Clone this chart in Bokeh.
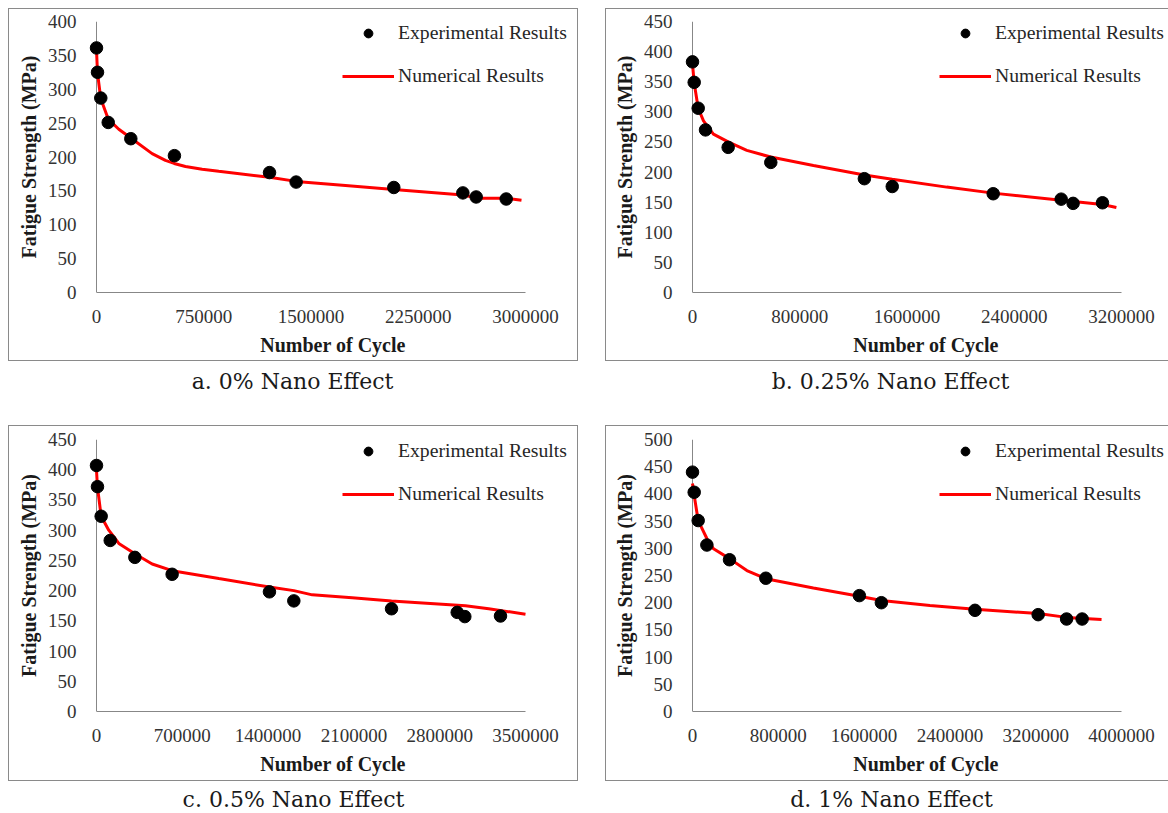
from bokeh.plotting import figure
from bokeh.models import (Range1d, FixedTicker, Legend, LegendItem, Label,
                          Spacer, BasicTickFormatter, Span)
from bokeh.layouts import row, column
from bokeh.embed import file_html
from bokeh.resources import INLINE

# ---------------- data ----------------
# a. 0% nano
exp_x_a = [0, 7000, 30000, 82000, 240000, 545000, 1210000, 1396000, 2079000, 2562000, 2655000, 2865000]
exp_y_a = [361, 325, 287, 251, 227, 202, 177, 163, 155, 147, 141, 138]
num_x_a = [0, 7000, 30000, 82000, 156000, 240000, 389000, 482000, 543000, 622000, 739000, 855000,
           1210000, 1396000, 1741000, 2079000, 2562000, 2674000, 2865000, 2972000]
num_y_a = [358, 324, 286, 256, 241, 228, 205, 195, 190.5, 186, 182, 179,
           170, 164, 158, 152, 144, 139, 139, 136]

# b. 0.25% nano
exp_x_b = [0, 12700, 42500, 97000, 266000, 584000, 1282000, 1490000, 2243000, 2750000, 2839000, 3058000]
exp_y_b = [383, 349, 306, 270, 241, 216, 189, 176, 164, 155, 148, 149]
num_x_b = [0, 12700, 42500, 82000, 156000, 266000, 405000, 584000, 902000, 1282000, 1490000,
           1896000, 2243000, 2750000, 3058000, 3162000]
num_y_b = [379, 348, 306, 285, 263, 250, 236, 225, 211, 195, 188, 175, 165, 153, 146, 141]

# c. 0.5% nano
exp_x_c = [0, 8000, 38000, 112000, 313000, 617000, 1411000, 1610000, 2407000, 2943000, 3005000, 3296000]
exp_y_c = [407, 372, 323, 283, 255, 227, 198, 183, 170, 164, 157, 158]
num_x_c = [0, 8000, 38000, 100000, 182000, 313000, 454000, 617000, 998000, 1411000, 1610000,
           1760000, 2086000, 2407000, 3010000, 3200000, 3500000]
num_y_c = [399, 371, 323, 300, 278, 261, 244, 233, 220, 206, 200, 193, 188, 183, 175, 170, 161]

# d. 1% nano
exp_x_d = [0, 15800, 53000, 134000, 345000, 684000, 1556000, 1761000, 2634000, 3223000, 3488000, 3633000]
exp_y_d = [440, 403, 351, 306, 279, 245, 213, 200, 186, 178, 170, 170]
num_x_d = [0, 15800, 53000, 134000, 196000, 345000, 507000, 684000, 1127000, 1556000, 1761000,
           2214000, 2634000, 3223000, 3488000, 3814000]
num_y_d = [419, 397, 351, 318, 299, 281, 259, 244, 227, 212, 204, 195, 188, 180, 173, 169]

x_ticks_a = [0, 750000, 1500000, 2250000, 3000000]
x_ticks_b = [0, 800000, 1600000, 2400000, 3200000]
x_ticks_c = [0, 700000, 1400000, 2100000, 2800000, 3500000]
x_ticks_d = [0, 800000, 1600000, 2400000, 3200000, 4000000]
y_max_a, y_max_b, y_max_c, y_max_d = 400, 450, 450, 500

x_label = "Number of Cycle"
y_label = "Fatigue Strength (MPa)"
legend_labels = ["Experimental Results", "Numerical Results"]
captions = ["a. 0% Nano Effect", "b. 0.25% Nano Effect", "c. 0.5% Nano Effect", "d. 1% Nano Effect"]

SERIF = "'Liberation Serif', 'Times New Roman', serif"
CAP_FONT = "'DejaVu Serif', serif"
GREY = "#878787"
BOX = "#8a8a8a"

XPX = 429      # pixel length of the x axis
PAD = 8        # frame extends this far left of x = 0


def make_panel(exp_x, exp_y, num_x, num_y, x_ticks, y_max, width, height,
               axis_left, b_top, b_bottom, frame_h, legend_x, open_right):
    xmax = x_ticks[-1]
    frame_left = axis_left - PAD
    frame_w = width - frame_left - 1
    x_start = -PAD / XPX * xmax
    x_end = (frame_w - PAD) / XPX * xmax
    p = figure(width=width, height=height,
               x_range=Range1d(x_start, x_end), y_range=Range1d(0, y_max),
               output_backend="svg", toolbar_location=None,
               min_border_left=frame_left, min_border_top=b_top,
               min_border_bottom=b_bottom, min_border_right=1)
    p.xgrid.visible = False
    p.ygrid.visible = False
    p.outline_line_color = None
    p.background_fill_color = None
    p.border_fill_color = None
    if open_right:
        shadow = f"inset 1px 1px 0 {BOX}, inset 0 -1px 0 {BOX}"
    else:
        shadow = f"inset 1px 1px 0 {BOX}, inset -1px -1px 0 {BOX}"
    p.styles = {"box-shadow": shadow, "background-color": "white"}

    for ax in (p.xaxis[0], p.yaxis[0]):
        ax.axis_line_color = GREY
        ax.axis_line_width = 1
        ax.major_tick_line_color = None
        ax.minor_tick_line_color = None
        ax.major_label_text_font = SERIF
        ax.major_label_text_font_size = "19px"
        ax.major_label_text_color = "#333333"
        ax.axis_label_text_font = SERIF
        ax.axis_label_text_font_style = "bold"
        ax.axis_label_text_font_size = "20px"
        ax.axis_label_text_color = "#1a1a1a"

    p.xaxis.ticker = FixedTicker(ticks=x_ticks)
    p.xaxis.formatter = BasicTickFormatter(use_scientific=False)
    p.xaxis.bounds = (0, xmax)
    p.yaxis.ticker = FixedTicker(ticks=list(range(0, y_max + 1, 50)))
    p.yaxis.axis_line_color = None
    p.xaxis.axis_label = x_label
    p.yaxis.axis_label = y_label
    p.xaxis.major_label_standoff = 11
    p.xaxis.axis_label_standoff = 8
    p.yaxis.major_label_standoff = 6
    p.yaxis.axis_label_standoff = 5

    # vertical axis line at x = 0
    p.add_layout(Span(location=0, dimension="height", line_color=GREY,
                      line_width=1, level="underlay"))

    r_line = p.line(num_x, num_y, line_color="#ff0000", line_width=3)
    r_pts = p.scatter(exp_x, exp_y, size=12.5, fill_color="black", line_color="black")

    legend = Legend(items=[LegendItem(label=legend_labels[0], renderers=[r_pts]),
                           LegendItem(label=legend_labels[1], renderers=[r_line])],
                    location=(legend_x, frame_h - 66),
                    border_line_color=None, background_fill_alpha=0,
                    padding=0, margin=0, spacing=20,
                    glyph_width=52, glyph_height=22, label_height=22,
                    label_standoff=4, label_text_font=SERIF,
                    label_text_font_size="19.7px", label_text_color="#262626")
    p.add_layout(legend)
    return p


def make_caption(text, width, height, cx, cy_from_top):
    c = figure(width=width, height=height, x_range=Range1d(0, width),
               y_range=Range1d(0, height), output_backend="svg",
               toolbar_location=None, min_border=0,
               x_axis_location=None, y_axis_location=None)
    c.xgrid.visible = False
    c.ygrid.visible = False
    c.outline_line_color = None
    c.add_layout(Label(x=cx, y=height - cy_from_top, text=text,
                       text_align="center", text_baseline="middle",
                       text_font=CAP_FONT, text_font_size="22px",
                       text_color="#1a1a1a"))
    return c


WA, WB, GAP, M = 570, 563, 27, 8
H1, H2 = 353, 356

pa = make_panel(exp_x_a, exp_y_a, num_x_a, num_y_a, x_ticks_a, y_max_a,
                WA, H1, 88, 13, 69, 271, 254, False)
pb = make_panel(exp_x_b, exp_y_b, num_x_b, num_y_b, x_ticks_b, y_max_b,
                WB, H1, 87, 13, 69, 271, 255, True)
pc = make_panel(exp_x_c, exp_y_c, num_x_c, num_y_c, x_ticks_c, y_max_c,
                WA, H2, 88, 14, 70, 272, 254, False)
pd = make_panel(exp_x_d, exp_y_d, num_x_d, num_y_d, x_ticks_d, y_max_d,
                WB, H2, 87, 14, 70, 272, 255, True)

CH1, CH2 = 64, 32
ca = make_caption(captions[0], WA, CH1, 284, 19.5)
cb = make_caption(captions[1], WB, CH1, 285, 19.5)
cc = make_caption(captions[2], WA, CH2, 285, 17.5)
cd = make_caption(captions[3], WB, CH2, 286, 17.5)

grid = column(
    row(pa, Spacer(width=GAP, height=H1), pb),
    row(ca, Spacer(width=GAP, height=CH1), cb),
    row(pc, Spacer(width=GAP, height=H2), pd),
    row(cc, Spacer(width=GAP, height=CH2), cd),
)
layout = column(Spacer(width=M, height=M), row(Spacer(width=M, height=10), grid))

open("out.html", "w").write(file_html(layout, INLINE))
